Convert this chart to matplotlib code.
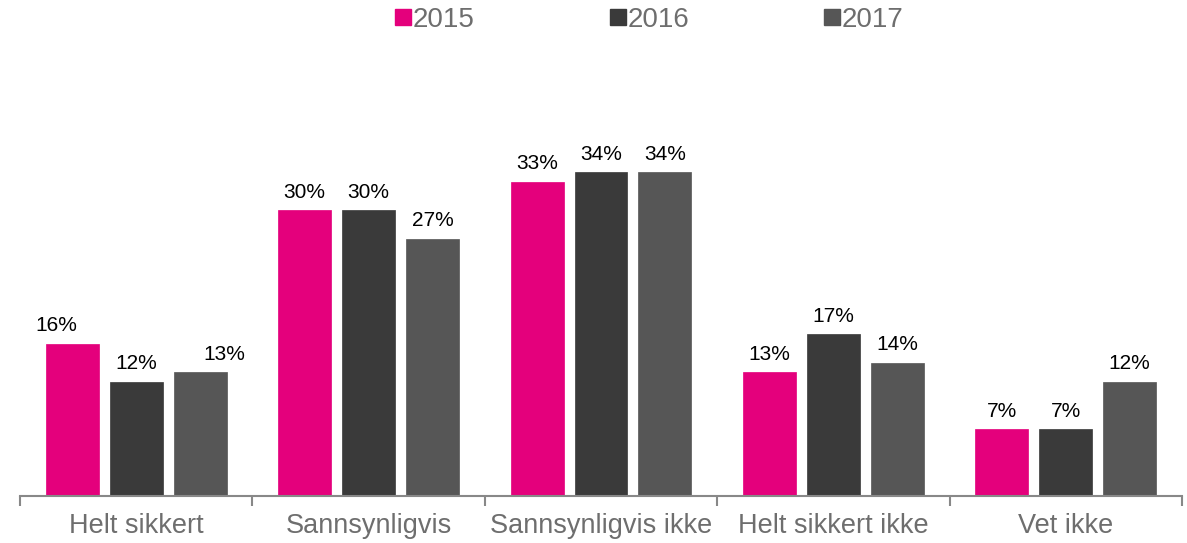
import numpy as np
import matplotlib
matplotlib.use('Agg')
import matplotlib.pyplot as plt
from matplotlib.lines import Line2D

plt.rcParams['font.family'] = ['Liberation Sans', 'DejaVu Sans']

kategorier = ["Helt sikkert", "Sannsynligvis", "Sannsynligvis ikke", "Helt sikkert ikke", "Vet ikke"]
aar = ["2015", "2016", "2017"]
v2015 = [16, 30, 33, 13, 7]
v2016 = [12, 30, 34, 17, 7]
v2017 = [13, 27, 34, 14, 12]
farger = ["#E4007C", "#3A3A3A", "#565656"]

# manuelt flyttede etiketter i første gruppe (piksler sideveis)
flytt = {(0, 0): -16, (2, 0): 24}

fig = plt.figure(figsize=(11.87, 5.43), dpi=100)
ax = fig.add_axes([20/1187, 1-496/543, 1162/1187, 381/543])

x = np.arange(len(kategorier))
bredde = 0.228
avstand = 0.275

for i, (verdier, farge) in enumerate(zip([v2015, v2016, v2017], farger)):
    pos = x + (i - 1) * avstand
    ax.bar(pos, verdier, width=bredde, color=farge, edgecolor=farge, linewidth=0.5)
    for j, (px, v) in enumerate(zip(pos, verdier)):
        dx = flytt.get((i, j), 0) * 0.72
        ax.annotate(f"{v}%", (px, v), xytext=(dx, 6), textcoords='offset points',
                    ha='center', va='bottom', fontsize=15, color='#000000')

ax.set_xlim(-0.5, 4.5)
ax.set_ylim(0, 40)
for s in ['top', 'right', 'left']:
    ax.spines[s].set_visible(False)
ax.spines['bottom'].set_color('#888888')
ax.spines['bottom'].set_linewidth(1.5)
ax.set_yticks([])

# tick-streker mellom kategoriene
ax.set_xticks(np.arange(-0.5, 5, 1))
ax.tick_params(axis='x', which='major', length=7, width=1.5, color='#888888', labelbottom=False)
ax.set_xticks(x, minor=True)
ax.set_xticklabels(kategorier, minor=True)
ax.tick_params(axis='x', which='minor', length=0, pad=12, labelsize=19.5, labelcolor='#6E6E6E')

handles = [Line2D([0], [0], marker='s', linestyle='', markersize=11, color=f) for f in farger]
fig.legend(handles, aar, loc='center', bbox_to_anchor=(650/1187, 1-20/543), ncol=3,
           frameon=False, fontsize=20, handlelength=0.5, handletextpad=0.1,
           columnspacing=4.9, labelcolor='#6E6E6E')

fig.savefig("out.png", dpi=100)
